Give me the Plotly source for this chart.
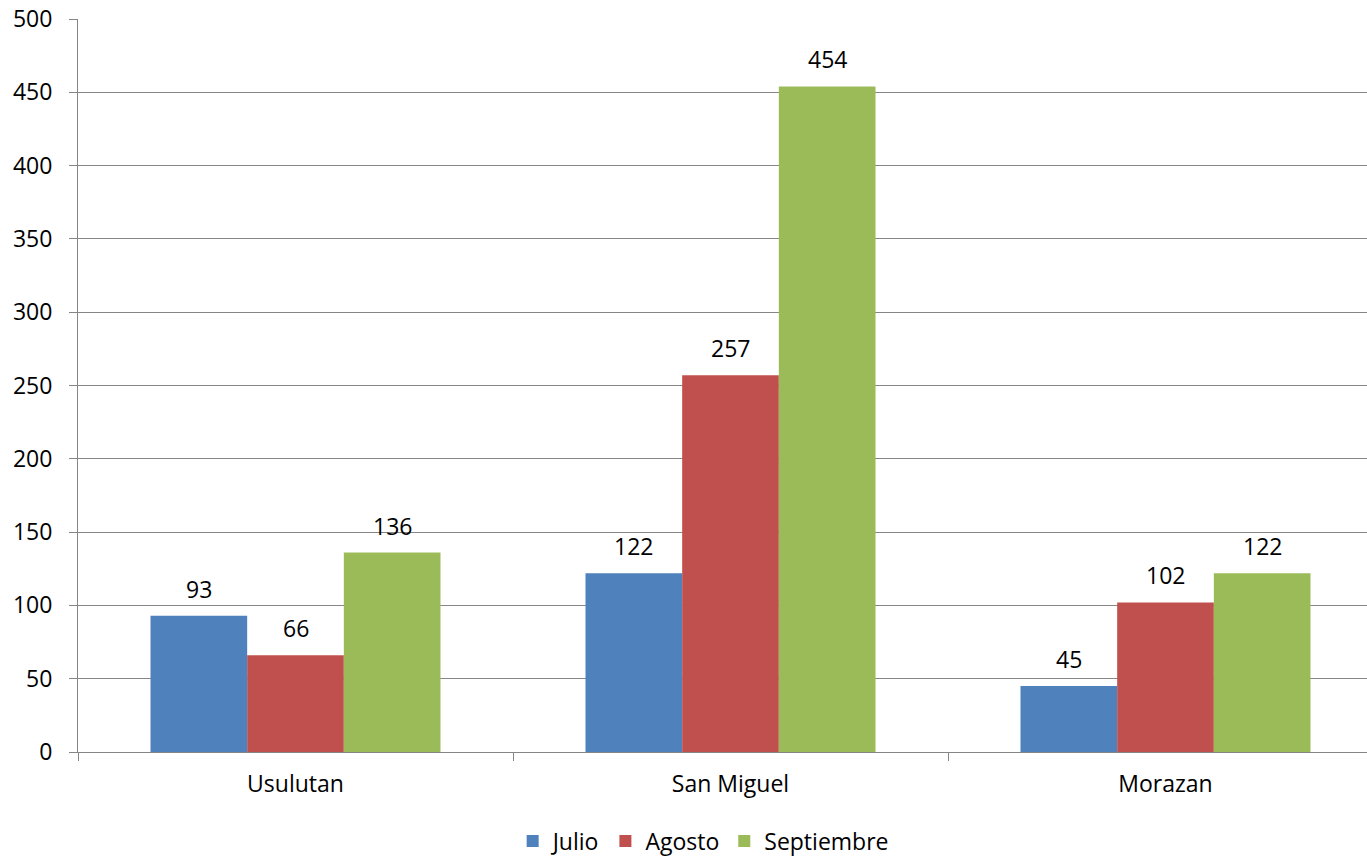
import plotly.graph_objects as go

categories = ["Usulutan", "San Miguel", "Morazan"]
series_names = ["Julio", "Agosto", "Septiembre"]
julio = [93, 122, 45]
agosto = [66, 257, 102]
septiembre = [136, 454, 122]
colors = ["#4F81BD", "#C0504D", "#9BBB59"]
y_ticks = [0, 50, 100, 150, 200, 250, 300, 350, 400, 450, 500]

W, H = 1367, 858
ML, MR, MT, MB = 78, 0, 19, 106
cat_px = 435.0
plot_w = W - ML - MR
x_end = -0.5 + plot_w / cat_px
bargap = 1/3
bar_px = cat_px * (1 - bargap) / 3

FONT = "Open Sans"
FS = 23
fig = go.Figure()
all_series = [julio, agosto, septiembre]
for name, vals, c in zip(series_names, all_series, colors):
    fig.add_trace(go.Bar(name=name, x=categories, y=vals, marker=dict(color=c, line=dict(width=0))))

for i, vals in enumerate(all_series):
    for cat, v in zip(categories, vals):
        fig.add_annotation(x=cat, y=v, text=str(v), showarrow=False,
                           xshift=(i - 1) * bar_px, yshift=27,
                           font=dict(family=FONT, size=FS, color="#000000"))

fig.update_layout(
    width=W, height=H,
    margin=dict(l=ML, r=MR, t=MT, b=MB, pad=0, autoexpand=False),
    barmode="group", bargap=bargap, bargroupgap=0,
    plot_bgcolor="white", paper_bgcolor="white",
    font=dict(family=FONT, size=FS, color="#000000"),
    showlegend=True,
    legend=dict(orientation="h", x=0.485, xanchor="center", y=-0.092, yanchor="top",
                font=dict(family=FONT, size=FS), itemwidth=30, traceorder="normal"),
)
fig.update_xaxes(type="category", range=[-0.5, x_end], showline=True, linecolor="#868686", linewidth=1,
                 ticks="outside", tickson="boundaries", ticklen=8, tickcolor="#868686", automargin=False,
                 showgrid=False, tickfont=dict(family=FONT, size=FS), ticklabelstandoff=11)
fig.update_yaxes(range=[0, 500], tickvals=y_ticks, showline=True, linecolor="#868686", linewidth=1,
                 ticks="outside", ticklen=8, tickcolor="#868686", showgrid=True, gridcolor="#868686",
                 gridwidth=1, zeroline=False, tickfont=dict(family=FONT, size=FS), ticklabelstandoff=12,
                 ticklabeloverflow="allow", automargin=False)

fig.write_html("out.html", config={"displayModeBar": False},
               post_script="document.body.style.margin='0';document.body.style.overflow='hidden';")
